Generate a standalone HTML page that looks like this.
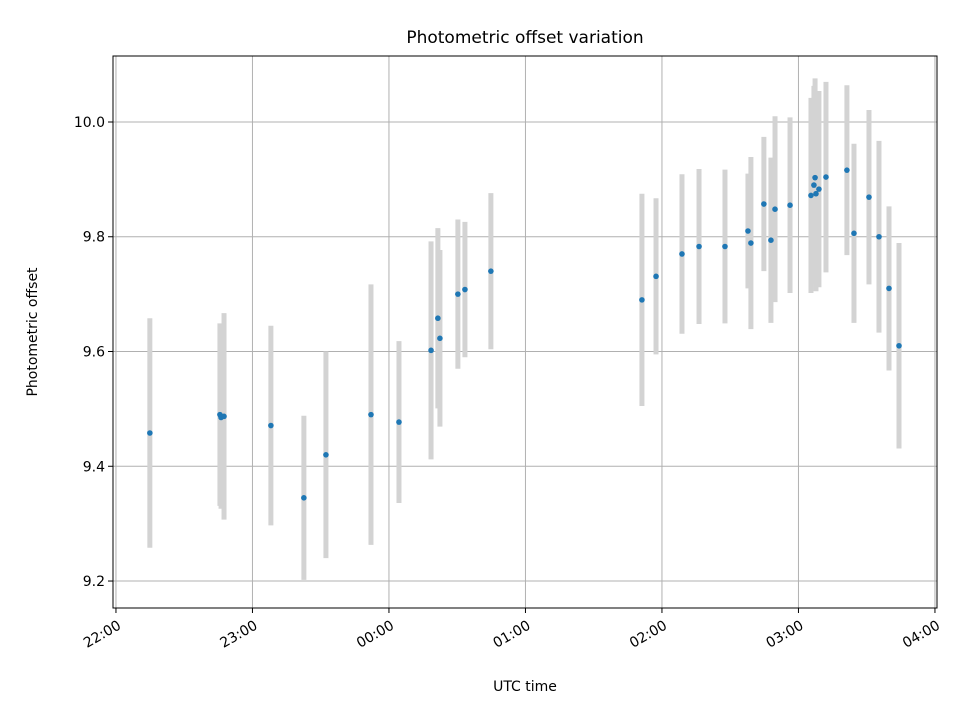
<!DOCTYPE html>
<html><head><meta charset="utf-8"><style>
body{margin:0;background:#fff;font-family:"Liberation Sans","DejaVu Sans",sans-serif}
svg text{font-family:"DejaVu Sans","Liberation Sans",sans-serif;fill:#000}
</style></head><body>
<svg id="chart" width="960" height="720" xmlns="http://www.w3.org/2000/svg">
<rect width="960" height="720" fill="#fff"/>
<g id="grid"></g><g id="bars"></g><g id="pts"></g>
<rect x="113" y="56" width="824" height="552" fill="none" stroke="#000" stroke-width="1"/>
<g id="axes"></g>
<text x="525" y="43" text-anchor="middle" font-size="17">Photometric offset variation</text>
<text x="525" y="691" text-anchor="middle" font-size="14">UTC time</text>
<text transform="translate(37,332) rotate(-90)" text-anchor="middle" font-size="14">Photometric offset</text>
</svg>
<script>
// minutes after 22:00
const times=[14.9,45.7,46.2,47.5,68.1,82.6,92.3,112.1,124.4,138.5,141.5,142.4,150.3,153.4,164.8,231.2,237.4,248.8,256.3,267.7,277.8,279.1,284.8,287.9,289.7,296.3,305.5,306.8,307.3,307.7,309.0,312.1,321.3,324.4,331.0,335.4,339.8,344.2];
const offsets=[9.458,9.49,9.485,9.487,9.471,9.345,9.42,9.49,9.477,9.602,9.658,9.623,9.70,9.708,9.74,9.69,9.731,9.77,9.783,9.783,9.81,9.789,9.857,9.794,9.848,9.855,9.872,9.89,9.903,9.875,9.883,9.904,9.916,9.806,9.869,9.80,9.71,9.61];
const errors=[0.20,0.159,0.159,0.18,0.174,0.143,0.18,0.227,0.141,0.19,0.157,0.154,0.13,0.118,0.136,0.185,0.136,0.139,0.135,0.134,0.10,0.15,0.117,0.144,0.162,0.153,0.17,0.173,0.173,0.17,0.171,0.166,0.148,0.156,0.152,0.167,0.143,0.179];
const xTickLabels=["22:00","23:00","00:00","01:00","02:00","03:00","04:00"];
const yTicks=[9.2,9.4,9.6,9.8,10.0];
const NS="http://www.w3.org/2000/svg";
const X0=113,X1=937,Y0=56,Y1=608;
const xMin=-1.3,xMax=360.9,yMin=9.153,yMax=10.115;
function xs(m){return X0+(m-xMin)/(xMax-xMin)*(X1-X0);}
function ys(v){return Y1-(v-yMin)/(yMax-yMin)*(Y1-Y0);}
function mk(tag,attrs,parent){const e=document.createElementNS(NS,tag);for(const k in attrs)e.setAttribute(k,attrs[k]);document.getElementById(parent).appendChild(e);return e;}
xTickLabels.forEach((t,i)=>{const x=xs(i*60);
 const g=mk("line",{x1:x,x2:x,y1:Y0,y2:Y1,stroke:"#b0b0b0","stroke-width":1},"grid");
 
 
 const tk=mk("line",{x1:x,x2:x,y1:Y1,y2:Y1+5,stroke:"#000"},"axes");
 
 
 const tx=mk("text",{transform:`translate(${x+6},${Y1+20}) rotate(-30)`,"text-anchor":"end","font-size":14},"axes");
 tx.textContent=t;
 
 
});
yTicks.forEach(v=>{const y=ys(v);
 const g=mk("line",{x1:X0,x2:X1,y1:y,y2:y,stroke:"#b0b0b0","stroke-width":1},"grid");
 
 
 const tk=mk("line",{x1:X0-5,x2:X0,y1:y,y2:y,stroke:"#000"},"axes");
 
 
 const tx=mk("text",{x:X0-8,y:y+5,"text-anchor":"end","font-size":14},"axes");
 tx.textContent=v.toFixed(1);
 
 
});
times.forEach((t,i)=>{const x=xs(t);
 const b=mk("line",{x1:x,x2:x,y1:ys(offsets[i]+errors[i]),y2:ys(offsets[i]-errors[i]),stroke:"#d3d3d3","stroke-width":5},"bars");
 
 
 const p=mk("circle",{cx:x,cy:ys(offsets[i]),r:2.8,fill:"#1f77b4"},"pts");
 
 
});
</script>
</body></html>
